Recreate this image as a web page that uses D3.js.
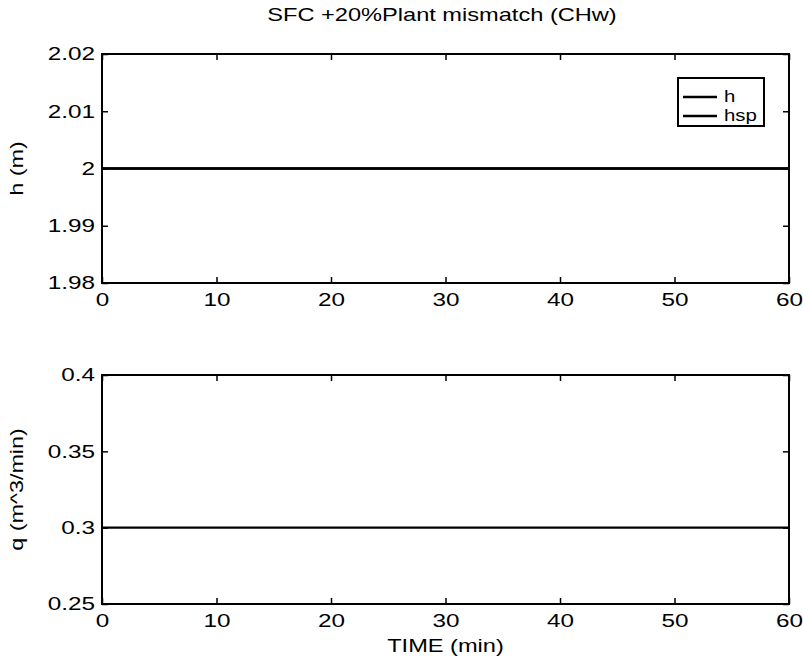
<!DOCTYPE html>
<html lang="en">
<head>
<meta charset="UTF-8">
<title>SFC +20%Plant mismatch (CHw)</title>
<script src="https://d3js.org/d3.v7.min.js"></script>
<style>
  body { margin: 0; background: #fff; }
  svg text { font-family: "Liberation Sans", Arial, sans-serif; fill: #000; }
</style>
</head>
<body>
<svg id="chart" width="803" height="665"></svg>
<script>
// data
const timeMin = [0, 10, 20, 30, 40, 50, 60];
const hLevel  = [2, 2, 2, 2, 2, 2, 2];
const hSetpt  = [2, 2, 2, 2, 2, 2, 2];
const qFlow   = [0.3, 0.3, 0.3, 0.3, 0.3, 0.3, 0.3];

const xTicks  = [0, 10, 20, 30, 40, 50, 60];
const hTicks  = [1.98, 1.99, 2, 2.01, 2.02];
const qTicks  = [0.25, 0.3, 0.35, 0.4];
const legendNames = ["h", "hsp"];

const svg = d3.select("#chart");
const left = 102, right = 789;
const wide = 1.35; // the scanned text is stretched sideways

const x = d3.scaleLinear().domain([0, 60]).range([left, right]);

function panel(top, bottom, yDomain, yTicks, yLabel, series) {
  const y = d3.scaleLinear().domain(yDomain).range([bottom, top]);
  const g = svg.append("g");

  const line = d3.line().x((d, i) => x(timeMin[i])).y(d => y(d));
  series.forEach(s => {
    g.append("path").datum(s)
      .attr("fill", "none").attr("stroke", "#000")
      .attr("stroke-width", 2.4).attr("d", line);
  });

  // box
  g.append("rect")
    .attr("x", left).attr("y", top)
    .attr("width", right - left).attr("height", bottom - top)
    .attr("fill", "none").attr("stroke", "#000").attr("stroke-width", 2);

  // ticks point inward, like matlab
  const xb = g.append("g").attr("transform", `translate(0,${bottom})`)
    .call(d3.axisBottom(x).tickValues(xTicks).tickSize(-6).tickFormat(d3.format("d")));
  xb.select(".domain").remove();
  xb.selectAll("line").attr("stroke-width", 1.5);
  xb.selectAll("text").attr("font-size", 18).attr("y", 0).attr("dy", null)
    .attr("transform", `translate(0,23) scale(${wide},1)`);

  const xt = g.append("g").attr("transform", `translate(0,${top})`)
    .call(d3.axisTop(x).tickValues(xTicks).tickSize(-6).tickFormat(""));
  xt.select(".domain").remove();
  xt.selectAll("line").attr("stroke-width", 1.5);

  const yl = g.append("g").attr("transform", `translate(${left},0)`)
    .call(d3.axisLeft(y).tickValues(yTicks).tickSize(-6).tickFormat(d => String(+d.toFixed(2))));
  yl.select(".domain").remove();
  yl.selectAll("line").attr("stroke-width", 1.5);
  yl.selectAll("text").attr("font-size", 18).attr("x", 0)
    .attr("transform", `translate(-7,0) scale(${wide},1)`);

  const yr = g.append("g").attr("transform", `translate(${right},0)`)
    .call(d3.axisRight(y).tickValues(yTicks).tickSize(-6).tickFormat(""));
  yr.select(".domain").remove();
  yr.selectAll("line").attr("stroke-width", 1.5);

  g.append("text")
    .attr("transform", `translate(23,${(top + bottom) / 2}) rotate(-90) scale(1.3,1)`)
    .attr("text-anchor", "middle").attr("font-size", 18)
    .text(yLabel);
  return y;
}

panel(54, 283, [1.98, 2.02], hTicks, "h (m)", [hLevel, hSetpt]);
panel(375, 604, [0.25, 0.4], qTicks, "q (m^3/min)", [qFlow]);

// title and x label
svg.append("text")
  .attr("transform", `translate(442,21) scale(${wide},1)`)
  .attr("text-anchor", "middle").attr("font-size", 17.5)
  .text("SFC +20%Plant mismatch (CHw)");
svg.append("text")
  .attr("transform", `translate(${(left + right) / 2},652) scale(${wide},1)`)
  .attr("text-anchor", "middle").attr("font-size", 17.5)
  .text("TIME (min)");

// legend
const lg = svg.append("g");
lg.append("rect").attr("x", 678).attr("y", 78).attr("width", 86).attr("height", 48)
  .attr("fill", "#fff").attr("stroke", "#000").attr("stroke-width", 2);
legendNames.forEach((n, i) => {
  const yy = 97 + i * 19;
  lg.append("line").attr("x1", 683).attr("x2", 717).attr("y1", yy).attr("y2", yy)
    .attr("stroke", "#000").attr("stroke-width", 2.4);
  lg.append("text").attr("transform", `translate(724,${yy + 5}) scale(1.2,1)`)
    .attr("font-size", 17).text(n);
});
</script>
</body>
</html>
